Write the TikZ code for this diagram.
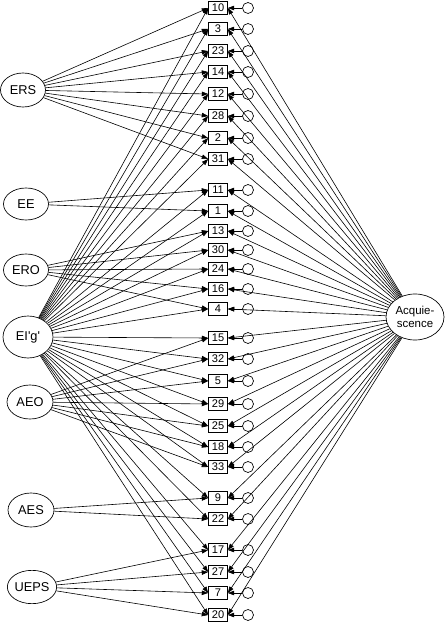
\documentclass[tikz,border=0pt]{standalone}
\usepackage{fontspec}
\setmainfont{Liberation Sans}
\usetikzlibrary{arrows.meta,shapes.geometric}
\begin{document}
\begin{tikzpicture}[x=0.75pt,y=-0.75pt,
  item/.style={draw,rectangle,fill=white,minimum width=14.25pt,minimum height=9.75pt,inner sep=0pt,line width=0.5pt,font=\fontsize{8.3}{9}\selectfont},
  err/.style={draw,circle,minimum size=8.25pt,inner sep=0pt,line width=0.5pt},
  lat/.style={draw,ellipse,fill=white,inner sep=0pt,line width=0.5pt,font=\fontsize{9.6}{11}\selectfont},
  arr/.style={-{Triangle[length=4.8pt,width=3.4pt]},line width=0.45pt},
]
\useasboundingbox (0,0) rectangle (445,623);

% latent factors
\node[lat,minimum width=33.75pt,minimum height=25.5pt] (ers) at (23,90) {ERS};
\node[lat,minimum width=33.75pt,minimum height=24pt] (ee) at (26,204) {EE};
\node[lat,minimum width=33.75pt,minimum height=24pt] (ero) at (26,270) {ERO};
\node[lat,minimum width=37.5pt,minimum height=31.5pt] (g) at (28,337) {EI\textquotesingle g\textquotesingle};
\node[lat,minimum width=34.5pt,minimum height=25.5pt] (aeo) at (30,402) {AEO};
\node[lat,minimum width=34.5pt,minimum height=25.5pt] (aes) at (31,510) {AES};
\node[lat,minimum width=35.25pt,minimum height=25pt] (ueps) at (32,587) {UEPS};
\node[lat,minimum width=43.5pt,minimum height=34.5pt,align=center,font=\fontsize{8.6}{9.6}\selectfont] (acq) at (415,317) {Acquie-\\scence};

% items with error terms, general factor and acquiescence loadings
\foreach \n/\y in {10/8,3/29,23/51,14/72,12/94,28/116,2/138,31/159,11/190,1/211,13/231,30/250,24/269,16/289,4/309,15/338,32/359,5/381,29/404,25/426,18/447,33/467,9/498,22/519,17/550,27/572,7/593,20/615}{
  \node[item] (b\n) at (218,\y) {\n};
  \node[err] (e\n) at (248,\y) {};
  \draw[arr] (e\n) -- (b\n.east);
  \draw[arr] (acq) -- (b\n.east);
  \draw[arr] (g) -- (b\n.west);
}

% specific factors
\foreach \n in {10,3,23,14,12,28,2,31}{\draw[arr] (ers) -- (b\n.west);}
\foreach \n in {11,1}{\draw[arr] (ee) -- (b\n.west);}
\foreach \n in {13,30,24,16,4}{\draw[arr] (ero) -- (b\n.west);}
\foreach \n in {15,32,5,29,25,18,33}{\draw[arr] (aeo) -- (b\n.west);}
\foreach \n in {9,22}{\draw[arr] (aes) -- (b\n.west);}
\foreach \n in {17,27,7,20}{\draw[arr] (ueps) -- (b\n.west);}
\end{tikzpicture}
\end{document}
